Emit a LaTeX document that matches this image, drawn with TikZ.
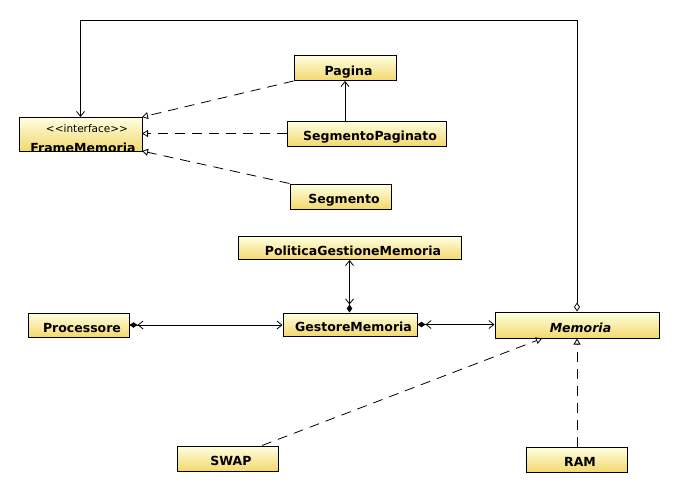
\documentclass[tikz,border=0pt]{standalone}
\usepackage{fontspec}
\setmainfont{DejaVu Sans}
\usetikzlibrary{arrows.meta,calc}
\definecolor{boxtop}{RGB}{255,255,226}
\definecolor{boxbot}{RGB}{242,216,110}
\tikzset{
  cls/.style={draw, line width=1pt, top color=boxtop, bottom color=boxbot,
    inner sep=0pt, minimum height=25pt, text height=14.5pt, text depth=0pt,
    execute at begin node={\hspace*{7pt}},
    font=\fontsize{12.5}{14}\selectfont\bfseries},
  conn/.style={line width=0.8pt},
  barb/.tip={Straight Barb[length=5pt,width=8pt]},
  odia/.tip={Diamond[open,length=9pt,width=6pt]},
  tri/.tip={Triangle[open,length=6pt,width=7pt]},
  realize/.style={conn, dash pattern=on 10pt off 7pt, -tri},
  compose/.style={conn, {Diamond[length=8pt,width=5.5pt] Straight Barb[length=5pt,width=8pt]}-{Straight Barb[length=5pt,width=8pt]}},
}
\begin{document}
\begin{tikzpicture}[x=1pt,y=-1pt]
\useasboundingbox (0,0) rectangle (677,490);
% classes
\node[cls, minimum width=102pt] (pag) at (345,68) {Pagina};
\node[cls, minimum width=159pt] (segp) at (366.5,133.5) {SegmentoPaginato};
\node[cls, minimum width=101pt] (seg) at (340.5,196.5) {Segmento};
\node[cls, minimum width=223pt, minimum height=23pt] (pol) at (349.5,248) {PoliticaGestioneMemoria};
\node[cls, minimum width=101pt, minimum height=24pt] (proc) at (78.5,325) {Processore};
\node[cls, minimum width=134pt, minimum height=23pt] (ges) at (350,324.5) {GestoreMemoria};
\node[cls, minimum width=164pt, minimum height=26pt, font=\fontsize{12.5}{14}\selectfont\bfseries\itshape] (mem) at (577,325) {Memoria};
\node[cls, minimum width=101pt] (swap) at (227.5,458.5) {SWAP};
\node[cls, minimum width=101pt] (ram) at (576.5,459.5) {RAM};
% interface FrameMemoria (text clipped by the box)
\node[cls, outer sep=0pt, minimum width=123pt, minimum height=34pt] (frame) at (80.5,134) {};
\begin{scope}
  \clip (frame.south west) rectangle (frame.north east);
  \node[inner sep=0pt, font=\fontsize{10.5}{12}\selectfont] (fst) at (87,129) {<{}<interface>{}>};
  \node[inner sep=0pt, anchor=base, font=\fontsize{12.5}{14}\selectfont\bfseries] (fname) at (83,152.5) {FrameMemoria};
\end{scope}
\draw[line width=1pt] (frame.south west) rectangle (frame.north east);
% connectors
\coordinate (topy) at (0,20);
\draw[conn, {odia}-{barb}] (mem.north) -- (mem.north |- topy) -| (frame.north);
\draw[realize] (pag.south west) -- (frame.north east);
\draw[realize] (segp.west) -- (segp.west -| frame.east);
\draw[realize] (seg.north west) -- (frame.south east);
\draw[conn, -barb] (segp.north -| pag.south) -- (pag.south);
\draw[compose] (pol.south |- ges.north) -- (pol.south);
\draw[compose] (proc.east) -- (proc.east -| ges.west);
\draw[compose] (ges.east) -- (ges.east -| mem.west);
\draw[realize] ([xshift=34.5pt]swap.north) -- ([xshift=-35pt]mem.south);
\draw[realize] (ram.north -| mem.south) -- (mem.south);
\end{tikzpicture}
\end{document}
